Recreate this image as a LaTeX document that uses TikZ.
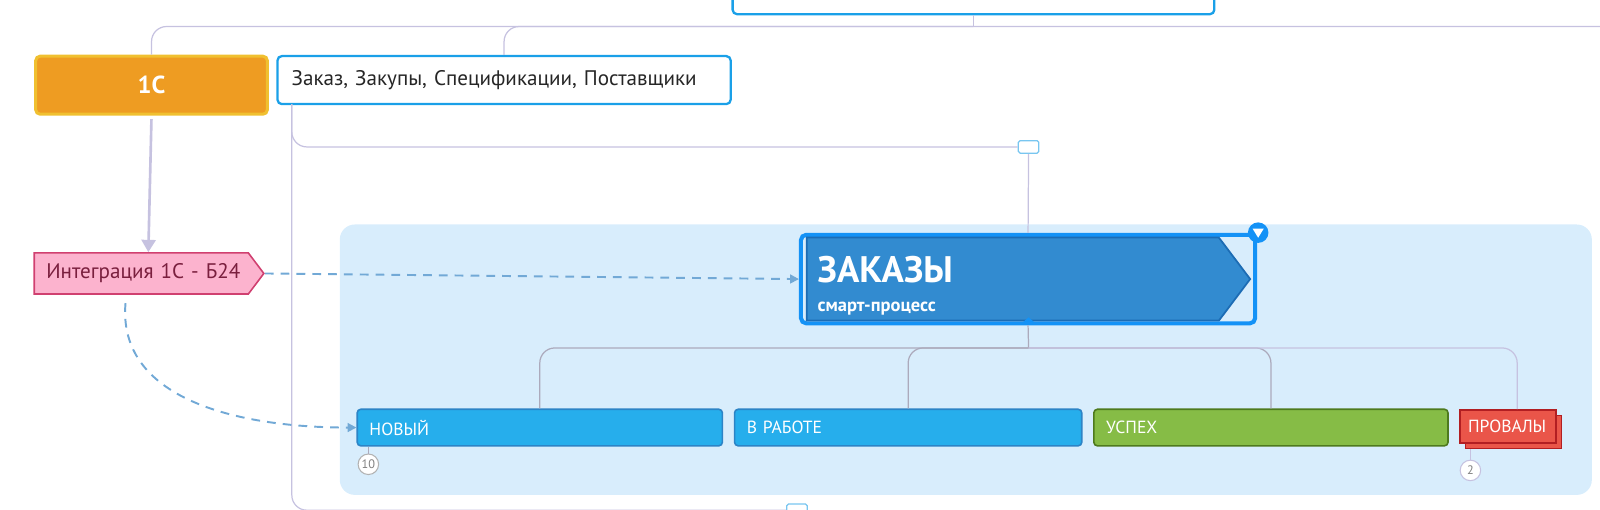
\documentclass[tikz,border=0pt]{standalone}
\usepackage{fontspec}
\setmainfont{PT Sans}
\usepackage{xcolor}
\usetikzlibrary{arrows.meta,shapes.symbols,shadows}
\definecolor{lnc}{RGB}{198,194,224}
\definecolor{lnd}{RGB}{172,170,188}
\definecolor{bord}{RGB}{26,160,232}
\definecolor{onef}{RGB}{238,156,34}
\definecolor{oneb}{RGB}{240,192,48}
\definecolor{intf}{RGB}{252,179,206}
\definecolor{intb}{RGB}{208,64,112}
\definecolor{intt}{RGB}{122,31,62}
\definecolor{panelc}{RGB}{216,237,252}
\definecolor{zfrm}{RGB}{20,146,246}
\definecolor{zfill}{RGB}{50,139,208}
\definecolor{zbord}{RGB}{28,108,180}
\definecolor{nf}{RGB}{38,174,236}
\definecolor{nb}{RGB}{44,132,198}
\definecolor{uf}{RGB}{134,188,70}
\definecolor{ub}{RGB}{78,122,30}
\definecolor{ff}{RGB}{234,85,73}
\definecolor{fb}{RGB}{178,30,34}
\definecolor{dsh}{RGB}{114,169,214}
\definecolor{sqb}{RGB}{120,198,240}
\newcommand{\fs}[1]{\fontsize{#1}{#1}\selectfont}

\begin{document}
\begin{tikzpicture}[x=0.204mm,y=-0.204mm,
  ln/.style={draw=lnc,line width=0.7pt},
  ln2/.style={draw=lnd,line width=0.7pt},
  cbox/.style={draw=bord,fill=white,line width=1.3pt,rounded corners=2.5pt,inner sep=0pt},
  one/.style={draw=oneb,fill=onef,line width=1.7pt,rounded corners=2.5pt,text=white,
    minimum width=46.3mm,minimum height=11.6mm,font=\bfseries\fs{14}},
  intg/.style={signal,signal to=east,signal pointer angle=106,draw=intb,fill=intf,line width=0.9pt,
    text=intt,text width=40.6mm,align=left,inner xsep=1.1mm,minimum height=8.2mm,font=\fs{12}},
  zsig/.style={signal,signal to=east,signal pointer angle=106,draw=zbord,fill=zfill,line width=1pt,
    text=white,text width=78mm,align=left,inner xsep=2.2mm,minimum height=16.1mm},
  zfr/.style={draw=zfrm,line width=2.3pt,rounded corners=3pt,minimum width=90.8mm,minimum height=17.7mm},
  stg/.style={rounded corners=2pt,line width=0.9pt,text=white,align=left,inner xsep=2.45mm,
    inner ysep=0pt,minimum height=7.3mm,font=\fs{10}},
  sq/.style={draw=sqb,fill=white,line width=0.7pt,rounded corners=1pt,minimum width=4.1mm,minimum height=2.5mm,inner sep=0pt},
  cnt/.style={circle,draw=#1,fill=white,line width=0.6pt,minimum size=4.1mm,inner sep=0pt,text=gray,font=\fs{7}},
  arr/.style={-{Triangle[length=7pt,width=8pt]},draw=lnc,line width=1.5pt,shorten <=2pt},
  dsh/.style={-{Triangle[length=5pt,width=5pt]},draw=dsh,line width=1.1pt,dash pattern=on 5pt off 4pt}]
  \useasboundingbox (0,0) rectangle (1568,499);
  \fill[panelc,rounded corners=3mm] (333,220) rectangle (1560,485);
  \node[cbox,minimum width=96.3mm,minimum height=12.2mm] (top) at (954,-16) {};
  \node[one] (one) at (148.5,83.5) {1С};
  \node[cbox,text width=84.9mm,align=left,inner xsep=2.85mm,minimum height=9.6mm,
    text=black!85,font=\fs{12}] (zak) at (494,78.5) {Заказ, Закупы, Спецификации, Поставщики};
  \coordinate (hub) at (954,26); \coordinate (zk) at (286,102);
  \draw[ln] (top.south) -- (hub);
  \draw[ln,rounded corners=3mm] (1580,26) -| (one.north);
  \draw[ln,rounded corners=3mm] (hub) -| (zak.north);
  \node[sq] (sq1) at (1008,144) {}; \node[sq] (sq2) at (781,500) {};
  \draw[ln,rounded corners=3mm] (zk) |- (sq1.west);
  \draw[ln,rounded corners=3mm] (zk) |- (sq2.west);
  \node[intg] (intg) at (138.5,268) {\hspace*{1.3mm}Интеграция 1С - Б24};
  \draw[arr] (one.south) -- ([xshift=1.4mm]intg.north);
  \node[zfr] (zfr) at (1007.5,273.5) {};
  \draw[ln] (sq1.south) -- (zfr.north);
  \node[zsig] (zsig) at (992.5,273.5) {{\bfseries\fs{21}\rule{0pt}{22.5pt}ЗАКАЗЫ}\\[1.4mm]{\bfseries\fs{10.5}смарт-процесс}};
  \node[circle,fill=zfrm,minimum size=4.1mm,inner sep=0pt] (tg) at (1233,228) {};
  \fill[white] (1227.5,224) -- (1238.5,224) -- (1233,233) -- cycle;
  \fill[zfrm] (1001,317) -- (1008,311) -- (1015,317) -- cycle;
  \node[stg,draw=nb,fill=nf,text width=68.1mm] (nov) at (529,419) {НОВЫЙ};
  \node[stg,draw=nb,fill=nf,text width=64.5mm] (rab) at (890,419) {В РАБОТЕ};
  \node[stg,draw=ub,fill=uf,text width=65.9mm] (usp) at (1245.5,419) {УСПЕХ};
  \node[stg,draw=fb,fill=ff,rounded corners=0pt,text width=16mm,inner xsep=1.6mm,minimum height=6.6mm,
    copy shadow={shadow xshift=1.1mm,shadow yshift=-1.1mm}] (prv) at (1478,418) {ПРОВАЛЫ};
  \coordinate (fork) at (1008,341);
  \draw[ln2] (zfr.south) -- (fork);
  \foreach \s in {nov,rab,usp} \draw[ln2,rounded corners=3mm] (fork) -| (\s.north);
  \draw[ln,rounded corners=3mm] (fork) -| ([xshift=1.8mm]prv.north);
  \node[cnt=gray!60] (c10) at (361,455) {10};
  \node[cnt=lnc] (c2) at (1441,461) {2};
  \draw[ln2] (c10 |- nov.south) -- (c10);
  \draw[ln] ([yshift=-1.1mm]c2 |- prv.south) -- (c2);
  \draw[dsh] (intg.east) -- (zfr.west);
  \coordinate (cs) at (123,297);
  \draw[dsh] (cs) .. controls (115,390) and (230,419) .. (nov.west);
\end{tikzpicture}
\end{document}
